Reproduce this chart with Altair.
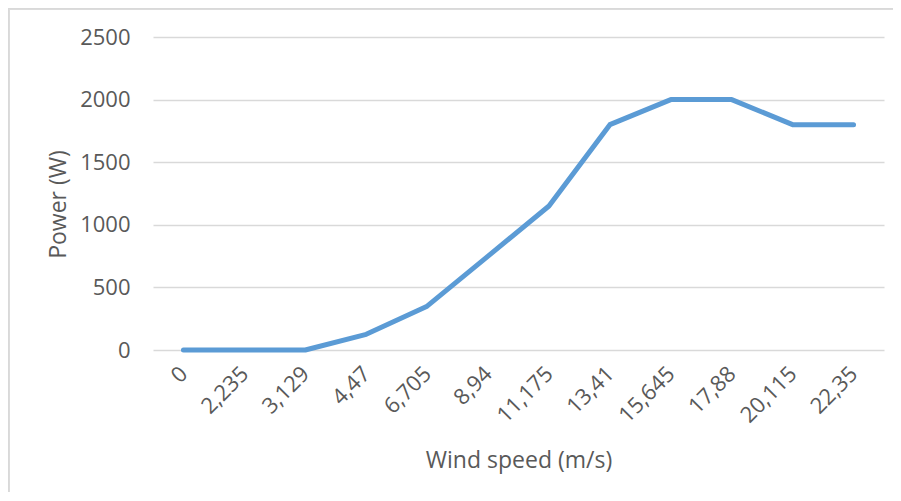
import altair as alt
import pandas as pd

wind_speed = ["0", "2,235", "3,129", "4,47", "6,705", "8,94", "11,175",
              "13,41", "15,645", "17,88", "20,115", "22,35"]
power = [0, 0, 0, 125, 350, 750, 1150, 1800, 2000, 2000, 1800, 1800]

df = pd.DataFrame({"speed": wind_speed, "power": power})

FONT = "Open Sans"
TXT = "#595959"

line = alt.Chart(df).mark_line(
    color="#5b9bd5", strokeWidth=5, strokeCap="round", strokeJoin="round"
).encode(
    x=alt.X("speed:O", sort=wind_speed,
            axis=alt.Axis(title="Wind speed (m/s)", labelAngle=-45,
                          labelAlign="right", labelBaseline="middle",
                          labelPadding=20, ticks=False, domain=False,
                          titleY=117, titleBaseline="alphabetic")),
    y=alt.Y("power:Q", scale=alt.Scale(domain=[0, 2500], nice=False),
            axis=alt.Axis(title="Power (W)", values=[0, 500, 1000, 1500, 2000, 2500],
                          format="d",
                          labelPadding=23, ticks=False, domain=False,
                          gridColor="#d9d9d9", gridWidth=1.3,
                          titleX=-83, titleY=167)),
)

left_edge = alt.Chart(df).mark_rule(color="#d9d9d9", strokeWidth=1.5).encode(
    x=alt.value(-144.5), y=alt.value(-29), y2=alt.value(480)
)
top_edge = alt.Chart(df).mark_rule(color="#d9d9d9", strokeWidth=1.5).encode(
    y=alt.value(-28.5), x=alt.value(-145), x2=alt.value(760)
)

chart = alt.layer(left_edge, top_edge, line).properties(
    width=731, height=313,
    autosize=alt.AutoSizeParams(type="none"),
    padding={"left": 145, "top": 29, "right": 9, "bottom": 142},
).configure_view(stroke=None).configure_axis(
    labelFont=FONT, titleFont=FONT, labelFontSize=22, titleFontSize=23,
    labelColor=TXT, titleColor=TXT, titleFontWeight="normal"
)

chart.save("out.html", embed_options={"renderer": "svg", "actions": False})
